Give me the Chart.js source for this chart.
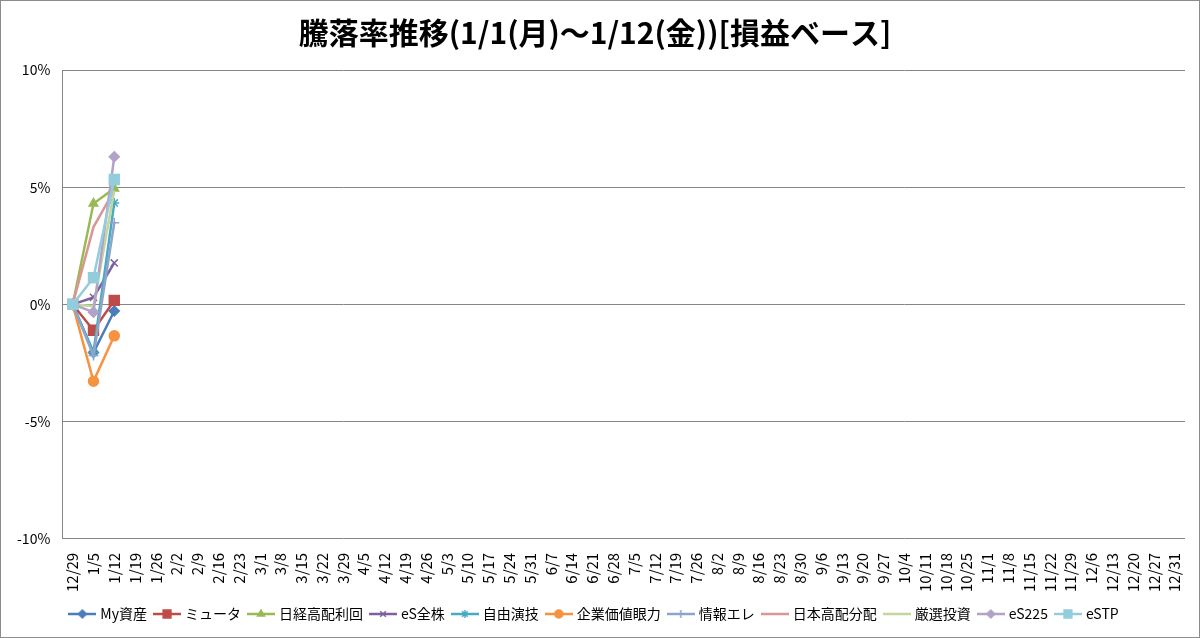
<!DOCTYPE html>
<html>
<head>
<meta charset="utf-8">
<script src="https://cdn.jsdelivr.net/npm/chart.js@4"></script>
<style>
  html, body { margin: 0; padding: 0; background: #fff; }
  .wrap { position: relative; width: 1198px; height: 636px; border: 1px solid #8c8c8c; }
</style>
</head>
<body>
<div class="wrap"><canvas id="chart"></canvas></div>
<script>
// weekly categories along the x axis
const weeks = ["12/29","1/5","1/12","1/19","1/26","2/2","2/9","2/16","2/23","3/1","3/8","3/15","3/22","3/29",
  "4/5","4/12","4/19","4/26","5/3","5/10","5/17","5/24","5/31","6/7","6/14","6/21","6/28","7/5","7/12",
  "7/19","7/26","8/2","8/9","8/16","8/23","8/30","9/6","9/13","9/20","9/27","10/4","10/11","10/18",
  "10/25","11/1","11/8","11/15","11/22","11/29","12/6","12/13","12/20","12/27","12/31"];

const yTicks = [-10, -5, 0, 5, 10];

// % change, only the first weeks are filled in
const myAsset   = [0, -2.05, -0.28];
const muta      = [0, -1.1, 0.17];
const nikkeiHY  = [0, 4.3, 4.95];
const esAll     = [0, 0.3, 1.77];
const jiyu      = [0, -2.05, 4.33];
const kigyo     = [0, -3.28, -1.34];
const jouhou    = [0, -2.18, 3.48];
const nihonHY   = [0, 3.3, 4.87];
const gensen    = [0, -0.07, 4.85];
const es225     = [0, -0.33, 6.3];
const estp      = [0, 1.14, 5.33];

const series = [
  { label: "My資産",     data: myAsset,  color: "#4a7ebb", marker: "rectRot" },
  { label: "ミュータ",    data: muta,     color: "#be4b48", marker: "rect" },
  { label: "日経高配利回", data: nikkeiHY, color: "#98b954", marker: "triangle" },
  { label: "eS全株",     data: esAll,    color: "#7d60a0", marker: "crossRot" },
  { label: "自由演技",    data: jiyu,     color: "#46aac5", marker: "star" },
  { label: "企業価値眼力", data: kigyo,    color: "#f69240", marker: "circle" },
  { label: "情報エレ",    data: jouhou,   color: "#8ea5cb", marker: "cross" },
  { label: "日本高配分配", data: nihonHY,  color: "#d99694", marker: false },
  { label: "厳選投資",    data: gensen,   color: "#c3d69b", marker: false },
  { label: "eS225",     data: es225,    color: "#b3a2c7", marker: "rectRot" },
  { label: "eSTP",      data: estp,     color: "#93cddd", marker: "rect" }
];

const FONT = "'Noto Sans CJK JP', 'Noto Sans', sans-serif";

function markerRadius(m) {
  if (!m) return 0;
  return m === "rect" ? 7 : 5;
}

function legendIcon(s) {
  const c = document.createElement("canvas");
  c.width = 28; c.height = 12;
  const g = c.getContext("2d");
  g.strokeStyle = s.color; g.fillStyle = s.color; g.lineWidth = 2.5;
  g.beginPath(); g.moveTo(0, 6); g.lineTo(28, 6); g.stroke();
  if (s.marker) {
    g.lineWidth = 1.5;
    Chart.helpers.drawPoint(g, { pointStyle: s.marker, radius: s.marker === "rect" ? 5.5 : 4, rotation: 0, borderWidth: 1.5 }, 14, 6);
  }
  return c;
}

const datasets = series.map((s, i) => ({
  label: s.label,
  data: s.data,
  order: series.length - i, // later series drawn on top, like the original
  borderColor: s.color,
  backgroundColor: s.color,
  borderWidth: 2.5,
  pointStyle: s.marker,
  pointRadius: markerRadius(s.marker),
  pointBorderWidth: 1.5,
  tension: 0,
  icon: legendIcon(s)
}));

new Chart(document.getElementById("chart"), {
  type: "line",
  data: { labels: weeks, datasets: datasets },
  options: {
    responsive: true,
    maintainAspectRatio: false,
    animation: false,
    layout: { padding: { left: 4, right: 14, top: 0, bottom: 6 } },
    plugins: {
      title: {
        display: true,
        text: "騰落率推移(1/1(月)～1/12(金))[損益ベース]",
        color: "#000",
        font: { family: FONT, size: 30, weight: "bold" },
        padding: { top: 14, bottom: 19 }
      },
      legend: {
        position: "bottom",
        labels: {
          color: "#000",
          font: { family: FONT, size: 14 },
          usePointStyle: true,
          pointStyleWidth: 22,
          padding: 9,
          generateLabels: chart => chart.data.datasets.map((d, i) => ({
            text: d.label,
            pointStyle: d.icon,
            fillStyle: d.borderColor,
            strokeStyle: d.borderColor,
            lineWidth: 0,
            hidden: false,
            datasetIndex: i
          }))
        }
      },
      tooltip: { enabled: false }
    },
    scales: {
      x: {
        offset: true,
        grid: { display: false },
        border: { display: false },
        ticks: {
          color: "#000",
          autoSkip: false,
          maxRotation: 90,
          minRotation: 90,
          padding: 6,
          font: { family: FONT, size: 15 }
        }
      },
      y: {
        min: -10,
        max: 10,
        afterBuildTicks: axis => { axis.ticks = yTicks.map(v => ({ value: v })); },
        grid: { color: "#868686", lineWidth: 1, drawTicks: false },
        border: { color: "#868686" },
        ticks: {
          color: "#000",
          padding: 12,
          font: { family: FONT, size: 14 },
          callback: v => v + "%"
        }
      }
    }
  }
});
</script>
</body>
</html>
